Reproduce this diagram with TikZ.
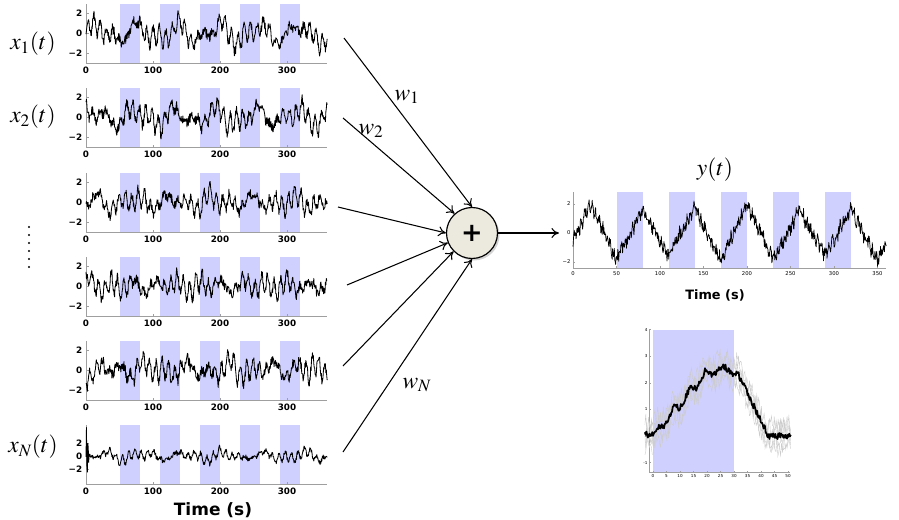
\documentclass[tikz,border=0pt]{standalone}
\usepackage{mathptmx}
\usepackage[no-math]{fontspec}
\setsansfont{DejaVu Sans}
\usetikzlibrary{arrows.meta,shadows}

\definecolor{bandblue}{RGB}{208,208,255}
\definecolor{sumfill}{RGB}{236,234,222}

\tikzset{
  band/.style={fill=bandblue},
  axisline/.style={draw=gray!75, line width=0.6pt},
  ticklab/.style={font=\sffamily\bfseries\fontsize{7.5}{8}\selectfont, inner sep=0.5pt},
  tinylab/.style={font=\sffamily\fontsize{3.5}{4}\selectfont, inner sep=0.3pt},
  sig/.style={line width=0.7pt, line join=round},
  mathlab/.style={font=\fontsize{20}{22}\selectfont},
  timelab/.style={font=\sffamily\bfseries\fontsize{14.5}{16}\selectfont},
  sumnode/.style={circle, draw, line width=1pt, fill=sumfill, minimum size=1.53cm,
    drop shadow={opacity=0.35, shadow xshift=0.06cm, shadow yshift=-0.06cm}},
}

% one input time series: axis y, zero offset, px per unit, amplitude, phase, seed, extra term
\newcommand{\xpanel}[7]{%
  \begin{scope}[shift={(86,#1)}]
    \foreach \a in {50,110,...,290}
      \fill[band] ({0.67*\a},-59) rectangle ({0.67*(\a+30)},0);
    \draw[axisline] (0,-59) -- (0,0) -- (241,0);
    \foreach \v/\s in {2/2,0/0,-2/−2} {
      \draw[axisline] (0,{-#2-#3*(\v)}) -- ++(2.5,0);
      \node[ticklab, anchor=east] at (-3,{-#2-#3*(\v)}) {\s};
    }
    \foreach \a in {0,100,200,300} {
      \draw[axisline] ({0.67*\a},0) -- ++(0,-2.5);
      \node[ticklab, anchor=north] at ({0.67*\a},3) {\a};
    }
    \pgfmathsetseed{#6}
    \draw[sig] plot[domain=0:360, samples=541, variable=\t]
      ({0.67*\t},{-#2-#3*#4*(0.7*sin(37*\t+#5)+0.9*sin(23*\t+2*#5)*cos(17*\t+#5)+0.6*sin(11*\t+3*#5)+0.5*blocktri(\t)+0.6*rand #7)});
  \end{scope}}

\begin{document}
\begin{tikzpicture}[x=0.03cm, y=-0.03cm, >={To[length=6.5pt,width=8.5pt]},
  declare function={
    blocktri(\t)=(Mod(\t-50,60)<30) ? (-1+Mod(\t-50,60)/15) : (3-Mod(\t-50,60)/15);
    avgresp(\t)=(\t<0) ? 0.05 : ((\t<20) ? (0.12*\t+0.15*sin(60*\t)) : ((\t<31) ? (2.45+0.15*sin(45*\t)) : max(0,2.45-0.21*(\t-31))));
  }]
  \useasboundingbox (0,0) rectangle (899,519);

  % input series
  \xpanel{63}{30}{10}{0.85}{0}{11}{}
  \xpanel{147}{30}{10}{0.85}{40}{12}{}
  \xpanel{232}{30}{10}{0.8}{80}{13}{}
  \xpanel{316}{30}{10}{0.85}{130}{14}{}
  \xpanel{400}{30}{10}{0.9}{200}{15}{}
  \xpanel{484}{28}{6.5}{0.6}{260}{16}{+(\t<5)*9*(1-min(\t,5)/5)*sin(150*min(\t,5))}

  \node[mathlab] (x1) at (33,44) {$x_1(t)$};
  \node[mathlab] (x2) at (33,117) {$x_2(t)$};
  \node[mathlab] (xN) at (33,447) {$x_N(t)$};
  \foreach \k in {0,...,5}
    \fill (29,227+8*\k) circle (1.1);
  \node[timelab] (tleft) at (213,510) {Time (s)};

  % summation
  \node[sumnode] (sum) at (472,233) {\sffamily\bfseries\fontsize{22}{22}\selectfont +};

  \coordinate (in1) at (344,38);
  \coordinate (in2) at (343,118);
  \coordinate (in3) at (338,207);
  \coordinate (in4) at (347,285);
  \coordinate (in5) at (343,366);
  \coordinate (in6) at (343,452);
  \coordinate (yout) at (559,233);

  \draw[->, line width=0.9pt] (in1) -- (sum.90);
  \draw[->, line width=0.9pt] (in2) -- (sum.132);
  \draw[->, line width=0.9pt] (in3) -- (sum.180);
  \draw[->, line width=0.9pt] (in4) -- (sum.202);
  \draw[->, line width=0.9pt] (in5) -- (sum.225);
  \draw[->, line width=0.9pt] (in6) -- (sum.270);
  \draw[->, line width=0.9pt] (sum.east) -- (yout);

  \node[mathlab] (w1) at (407,97) {$w_1$};
  \node[mathlab] (w2) at (371,131) {$w_2$};
  \node[mathlab] (wN) at (417,385) {$w_N$};

  % output series
  \begin{scope}[shift={(573,233)}]
    \foreach \a in {50,110,...,290}
      \fill[band] ({0.87*\a},-41) rectangle ({0.87*(\a+30)},35);
    \draw[axisline] (0,-41) -- (0,35) -- (313,35);
    \foreach \v/\s in {2/2,0/0,-2/−2} {
      \draw[axisline] (0,{-14.5*(\v)}) -- ++(2,0);
      \node[tinylab, font=\sffamily\fontsize{4.5}{5}\selectfont, anchor=east] at (-2,{-14.5*(\v)}) {\s};
    }
    \foreach \a in {0,50,...,350} {
      \draw[axisline] ({0.87*\a},35) -- ++(0,-2);
      \node[tinylab, font=\sffamily\fontsize{4.5}{5}\selectfont, anchor=north] at ({0.87*\a},38) {\a};
    }
    \pgfmathsetseed{21}
    \draw[sig, line width=0.6pt] plot[domain=0:360, samples=721, variable=\t]
      ({0.87*\t},{-14.5*(1.75*blocktri(\t)+0.4*sin(45*\t)*cos(41*\t)+0.45*rand)});
  \end{scope}
  \node[mathlab] (ylab) at (715,170) {$y(t)$};
  \node[timelab, font=\sffamily\bfseries\fontsize{11}{12}\selectfont] (tright) at (715,295) {Time (s)};

  % block average
  \begin{scope}[shift={(653,436)}]
    \fill[band] (0,-106) rectangle (81,36);
    \draw[axisline, line width=0.4pt] (-4,-106) -- (-4,36) -- (137,36);
    \foreach \v in {-1,0,...,4} {
      \draw[axisline, line width=0.3pt] (-4,{-26.6*(\v)}) -- ++(1.5,0);
      \node[tinylab, anchor=east] at (-5,{-26.6*(\v)}) {\v};
    }
    \foreach \a in {0,5,...,50} {
      \draw[axisline, line width=0.3pt] ({2.7*\a},36) -- ++(0,-1.5);
      \node[tinylab, anchor=north] at ({2.7*\a},37.5) {\a};
    }
    \pgfmathsetseed{31}
    \foreach \k in {1,...,5}
      \draw[gray!40, line width=0.35pt] plot[domain=-3:51, samples=160, variable=\t]
        ({2.7*\t},{-26.6*(avgresp(\t)+0.45*sin(50*\t+70*\k)+0.35*rand)});
    \draw[line width=1.5pt, line join=round] plot[domain=-3:51, samples=200, variable=\t]
      ({2.7*\t},{-26.6*(avgresp(\t)+0.12*rand)});
  \end{scope}
\end{tikzpicture}
\end{document}
